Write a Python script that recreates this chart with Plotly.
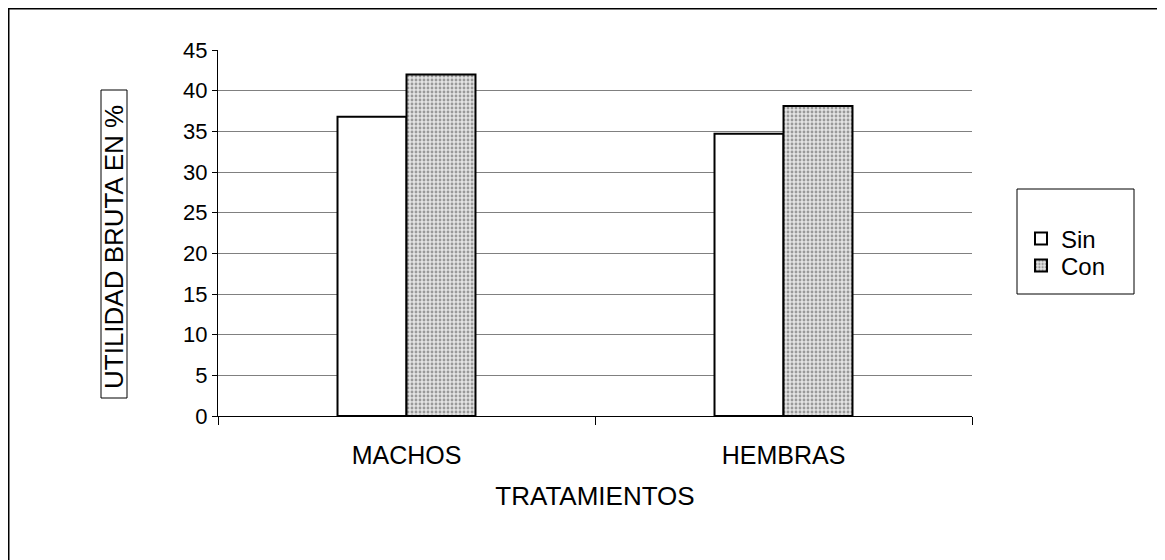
import plotly.graph_objects as go

categories = ["MACHOS", "HEMBRAS"]
sin_values = [36.8, 34.7]
con_values = [42.0, 38.1]
series_names = ["Sin", "Con"]
y_ticks = [0, 5, 10, 15, 20, 25, 30, 35, 40, 45]
x_title = "TRATAMIENTOS"
y_title = "UTILIDAD BRUTA EN %"

FONT = "Liberation Sans, Arial, sans-serif"

# figure is placed at (8, 8) on the page by the default body margin
W, H = 1157, 552
L, T = 210, 42
PR, PB = 964, 408          # plot right / bottom in figure pixels
R, B = W - PR, H - PB
pw, ph = PR - L, PB - T


def px(x):
    return (x - L) / pw


def py(y):
    return (PB - y) / ph


fig = go.Figure()
fig.add_trace(go.Bar(
    x=categories, y=sin_values, name=series_names[0],
    marker=dict(color="white", line=dict(color="black", width=2)),
    legend="legend",
))
fig.add_trace(go.Bar(
    x=categories, y=con_values, name=series_names[1],
    marker=dict(color="#d0d0d0", line=dict(color="black", width=2),
                pattern=dict(shape=".", size=4, solidity=0.4,
                             fgcolor="#999999", bgcolor="#e4e4e4", fillmode="replace")),
    legend="legend2",
))

legend_common = dict(xanchor="left", yanchor="middle", bgcolor="rgba(0,0,0,0)",
                     borderwidth=0, font=dict(size=24), itemwidth=30)

fig.update_layout(
    width=W, height=H,
    margin=dict(l=L, r=R, t=T, b=B, autoexpand=False),
    paper_bgcolor="white", plot_bgcolor="white",
    font=dict(family=FONT, size=22, color="black"),
    barmode="group", bargap=0.634, bargroupgap=0,
    showlegend=True,
    legend=dict(x=px(1013), y=py(231), **legend_common),
    legend2=dict(x=px(1013), y=py(258), **legend_common),
    xaxis=dict(
        range=[-0.5, 1.5], showline=True, linecolor="black", linewidth=1,
        ticks="outside", ticklen=8, tickcolor="black", tickson="boundaries",
        ticklabelstandoff=17, showgrid=False, zeroline=False,
        title=dict(text=x_title, standoff=18, font=dict(size=26)),
        tickfont=dict(size=25),
    ),
    yaxis=dict(
        range=[0, 45], tickvals=y_ticks, showline=True, linecolor="black", linewidth=1,
        ticks="outside", ticklen=5, tickcolor="black",
        showgrid=True, gridcolor="#808080", gridwidth=1, zeroline=False,
        tickfont=dict(size=22),
    ),
    annotations=[
        dict(text=y_title, textangle=-90, xref="paper", yref="paper",
             x=px(106), y=py(239), xanchor="center", yanchor="middle",
             showarrow=False, font=dict(size=26)),
    ],
    shapes=[
        # outer chart frame
        dict(type="rect", xref="paper", yref="paper",
             x0=px(0.75), x1=px(1300), y0=py(700), y1=py(0.75),
             line=dict(color="black", width=1.5), layer="below"),
        # y-axis title box
        dict(type="rect", xref="paper", yref="paper",
             x0=px(93), x1=px(119), y0=py(390), y1=py(82),
             line=dict(color="black", width=1)),
        # legend box
        dict(type="rect", xref="paper", yref="paper",
             x0=px(1009), x1=px(1126), y0=py(286), y1=py(181),
             line=dict(color="black", width=1)),
    ],
)

fig.write_html("out.html")
